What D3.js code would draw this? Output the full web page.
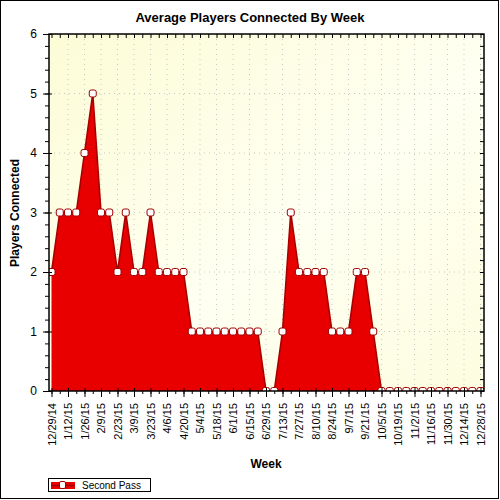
<!DOCTYPE html>
<html>
<head>
<meta charset="utf-8">
<script src="https://cdn.jsdelivr.net/npm/d3@7"></script>
<style>
  body { margin: 0; background: #fff; }
  svg { display: block; font-family: Arial, "Liberation Sans", sans-serif; }
  .axis path, .axis line { stroke: #000; }
  .axis text { fill: #000; }
</style>
</head>
<body>
<svg id="chart" width="500" height="500"></svg>
<script>
// weekly categories (x axis)
const weeks = [
  "12/29/14", "1/5/15", "1/12/15", "1/19/15", "1/26/15", "2/2/15", "2/9/15", "2/16/15",
  "2/23/15", "3/2/15", "3/9/15", "3/16/15", "3/23/15", "3/30/15", "4/6/15", "4/13/15",
  "4/20/15", "4/27/15", "5/4/15", "5/11/15", "5/18/15", "5/25/15", "6/1/15", "6/8/15",
  "6/15/15", "6/22/15", "6/29/15", "7/6/15", "7/13/15", "7/20/15", "7/27/15", "8/3/15",
  "8/10/15", "8/17/15", "8/24/15", "8/31/15", "9/7/15", "9/14/15", "9/21/15", "9/28/15",
  "10/5/15", "10/12/15", "10/19/15", "10/26/15", "11/2/15", "11/9/15", "11/16/15", "11/23/15",
  "11/30/15", "12/7/15", "12/14/15", "12/21/15", "12/28/15"
];
// every other week gets a label
const labeledWeeks = [
  "12/29/14", "1/12/15", "1/26/15", "2/9/15", "2/23/15", "3/9/15", "3/23/15", "4/6/15",
  "4/20/15", "5/4/15", "5/18/15", "6/1/15", "6/15/15", "6/29/15", "7/13/15", "7/27/15",
  "8/10/15", "8/24/15", "9/7/15", "9/21/15", "10/5/15", "10/19/15", "11/2/15", "11/16/15",
  "11/30/15", "12/14/15", "12/28/15"
];
// Second Pass - average players connected
const secondPass = [
  2, 3, 3, 3, 4, 5, 3, 3, 2, 3, 2, 2, 3, 2, 2, 2,
  2, 1, 1, 1, 1, 1, 1, 1, 1, 1, 0, 0, 1, 3, 2, 2,
  2, 2, 1, 1, 1, 2, 2, 1, 0, 0, 0, 0, 0, 0, 0, 0,
  0, 0, 0, 0, 0
];
const yTicks = [0, 1, 2, 3, 4, 5, 6];

const svg = d3.select("#chart");
const plot = { left: 49, top: 34, right: 484, bottom: 391 };

// outer frame
svg.append("rect")
  .attr("x", 0.5).attr("y", 0.5).attr("width", 498).attr("height", 498)
  .attr("fill", "#fff").attr("stroke", "#000").attr("stroke-width", 1);

const defs = svg.append("defs");
const bg = defs.append("linearGradient").attr("id", "bg")
  .attr("x1", "0%").attr("y1", "0%").attr("x2", "100%").attr("y2", "100%");
bg.append("stop").attr("offset", "0%").attr("stop-color", "#fcfcd6");
bg.append("stop").attr("offset", "55%").attr("stop-color", "#fffff2");
bg.append("stop").attr("offset", "100%").attr("stop-color", "#fdfde0");
defs.append("clipPath").attr("id", "clip")
  .append("rect")
  .attr("x", plot.left).attr("y", plot.top)
  .attr("width", plot.right - plot.left).attr("height", plot.bottom - plot.top);

svg.append("rect")
  .attr("x", plot.left).attr("y", plot.top)
  .attr("width", plot.right - plot.left).attr("height", plot.bottom - plot.top)
  .attr("fill", "url(#bg)");

const x = d3.scalePoint().domain(weeks).range([51.5, 480.5]);
const y = d3.scaleLinear().domain([0, 6]).range([plot.bottom, plot.top]);

// dotted grid
const grid = svg.append("g").attr("stroke", "#c8c8c8").attr("stroke-dasharray", "1,4");
grid.selectAll(".vg").data(labeledWeeks.slice(1)).join("line")
  .attr("x1", d => x(d)).attr("x2", d => x(d))
  .attr("y1", plot.top).attr("y2", plot.bottom);
grid.selectAll(".hg").data(yTicks.slice(1, -1)).join("line")
  .attr("x1", plot.left).attr("x2", plot.right)
  .attr("y1", d => y(d)).attr("y2", d => y(d));

// area + line
const data = weeks.map((w, i) => ({ week: w, value: secondPass[i] }));
const series = svg.append("g").attr("clip-path", "url(#clip)");
series.append("path")
  .datum(data)
  .attr("fill", "#e80000")
  .attr("d", d3.area().x(d => x(d.week)).y0(y(0)).y1(d => y(d.value)));
series.append("path")
  .datum(data)
  .attr("fill", "none")
  .attr("stroke", "#a80000")
  .attr("stroke-width", 1.6)
  .attr("d", d3.line().x(d => x(d.week)).y(d => y(d.value)));
series.selectAll("rect.pt")
  .data(data)
  .join("rect")
    .attr("class", "pt")
    .attr("x", d => x(d.week) - 3.5)
    .attr("y", d => y(d.value) - 3.5)
    .attr("width", 7).attr("height", 7)
    .attr("rx", 2)
    .attr("fill", "#fff")
    .attr("stroke", "#a00000")
    .attr("stroke-width", 1);

// plot border
svg.append("rect")
  .attr("x", plot.left).attr("y", plot.top)
  .attr("width", plot.right - plot.left).attr("height", plot.bottom - plot.top)
  .attr("fill", "none").attr("stroke", "#000").attr("stroke-width", 1.5);

// axes
const minorY = d3.range(0, 30).map(i => i * 0.2);
svg.append("g").attr("class", "axis")
  .attr("transform", `translate(${plot.left},0)`)
  .call(d3.axisLeft(y).tickValues(minorY).tickSize(4).tickFormat(""))
  .call(g => g.select(".domain").remove());
svg.append("g").attr("class", "axis")
  .attr("transform", `translate(${plot.left},0)`)
  .call(d3.axisLeft(y).tickValues(yTicks).tickFormat(d3.format("d")).tickSize(6).tickPadding(6).tickSizeOuter(0))
  .call(g => g.select(".domain").remove())
  .call(g => g.selectAll("text").attr("font-size", 12))
  .call(g => g.selectAll("line").attr("x2", -6).attr("x1", 3));
svg.append("g").attr("class", "axis")
  .attr("transform", `translate(${plot.right},0)`)
  .call(d3.axisLeft(y).tickValues(minorY.concat(yTicks)).tickSize(4).tickFormat(""))
  .call(g => g.select(".domain").remove());

svg.append("g").attr("class", "axis")
  .attr("transform", `translate(0,${plot.top})`)
  .call(d3.axisBottom(x).tickSize(4).tickFormat(""))
  .call(g => g.select(".domain").remove());
svg.append("g").attr("class", "axis")
  .attr("transform", `translate(0,${plot.bottom})`)
  .call(d3.axisBottom(x).tickSize(3).tickFormat(""))
  .call(g => g.select(".domain").remove());
svg.append("g").attr("class", "axis")
  .attr("transform", `translate(0,${plot.bottom})`)
  .call(d3.axisBottom(x).tickValues(labeledWeeks).tickSize(6))
  .call(g => g.select(".domain").remove())
  .call(g => g.selectAll("line").attr("y1", -3))
  .call(g => g.selectAll("text")
    .attr("font-size", 11)
    .attr("text-anchor", "end")
    .attr("dy", "0.35em")
    .attr("transform", "translate(0,12) rotate(-90)")
    .attr("x", 0).attr("y", 0));

// titles
svg.append("text")
  .attr("x", 250).attr("y", 22)
  .attr("text-anchor", "middle")
  .attr("font-size", 13).attr("font-weight", "bold")
  .text("Average Players Connected By Week");
svg.append("text")
  .attr("transform", "rotate(-90)")
  .attr("x", -213).attr("y", 19)
  .attr("text-anchor", "middle")
  .attr("font-size", 12).attr("font-weight", "bold")
  .text("Players Connected");
svg.append("text")
  .attr("x", 266).attr("y", 468)
  .attr("text-anchor", "middle")
  .attr("font-size", 12).attr("font-weight", "bold")
  .text("Week");

// legend
const lg = svg.append("g");
lg.append("rect")
  .attr("x", 48.5).attr("y", 478.5).attr("width", 102).attr("height", 13)
  .attr("fill", "#fff").attr("stroke", "#000");
lg.append("rect")
  .attr("x", 51).attr("y", 482).attr("width", 24).attr("height", 7)
  .attr("fill", "#e80000");
lg.append("line")
  .attr("x1", 51).attr("x2", 75).attr("y1", 485.5).attr("y2", 485.5)
  .attr("stroke", "#a80000").attr("stroke-width", 1.5);
lg.append("rect")
  .attr("x", 59.5).attr("y", 481.5).attr("width", 6).attr("height", 7)
  .attr("rx", 1.5)
  .attr("fill", "#fff").attr("stroke", "#a00000");
lg.append("text")
  .attr("x", 82).attr("y", 489)
  .attr("font-size", 10)
  .text("Second Pass");
</script>
</body>
</html>
